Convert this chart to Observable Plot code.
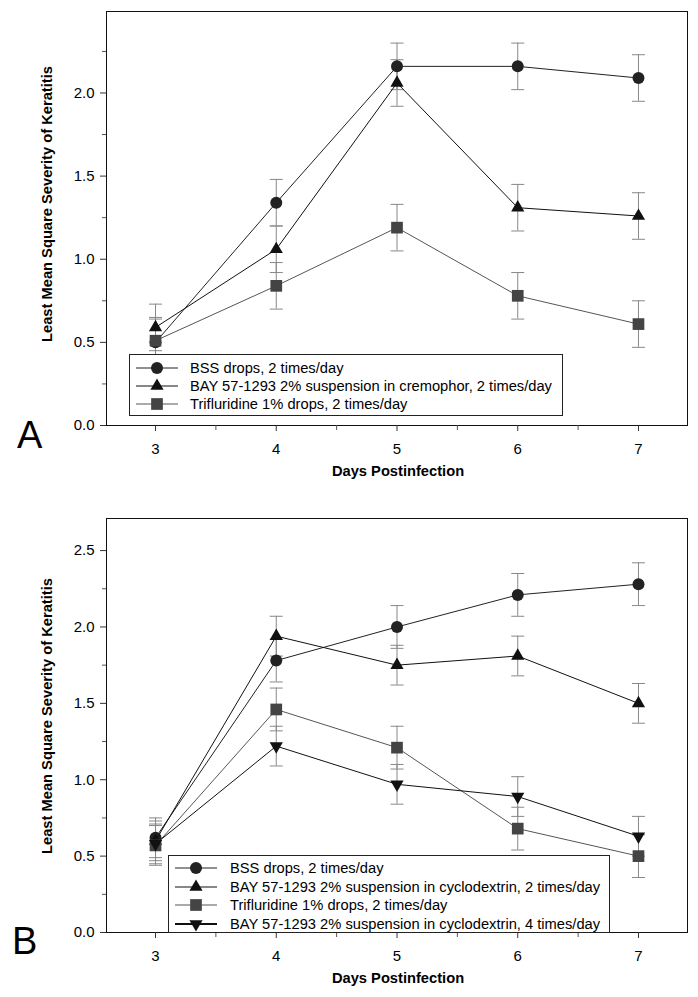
<!DOCTYPE html>
<html>
<head>
<meta charset="utf-8">
<script src="https://cdn.jsdelivr.net/npm/d3@7"></script>
<script src="https://cdn.jsdelivr.net/npm/@observablehq/plot@0.6"></script>
<style>
  body { margin: 0; background: #fff; font-family: "Liberation Sans", Arial, sans-serif; }
  #page { position: relative; width: 698px; height: 997px; overflow: hidden; }
  .panel { position: absolute; left: 0; width: 698px; }
  .letter { position: absolute; font-size: 38px; line-height: 1; color: #000; }
  .xtitle { position: absolute; font-weight: bold; font-size: 14.7px; line-height: 1; white-space: nowrap; transform: translate(-50%, -50%); }
  .ytitle { position: absolute; font-weight: bold; font-size: 14.7px; line-height: 1; white-space: nowrap; transform: translate(-50%, -50%) rotate(-90deg); }
  .legend { position: absolute; background: #fff; border: 1px solid #222; box-sizing: border-box; }
  .legend .row { position: absolute; left: 0; height: 18px; display: flex; align-items: center; font-size: 14.7px; white-space: nowrap; }
  .legend .row svg { display: block; }
</style>
</head>
<body>
<div id="page"></div>
<script>
// ---------- data ----------
const days = [3, 4, 5, 6, 7];
const minorDays = [3.5, 4.5, 5.5, 6.5];

// Panel A
const aLabels = [
  "BSS drops, 2 times/day",
  "BAY 57-1293 2% suspension in cremophor, 2 times/day",
  "Trifluridine 1% drops, 2 times/day"
];
const aBSS = [0.50, 1.34, 2.16, 2.16, 2.09];
const aBSSErr = [0.14, 0.14, 0.14, 0.14, 0.14];
const aBAY = [0.59, 1.06, 2.06, 1.31, 1.26];
const aBAYErr = [0.14, 0.14, 0.14, 0.14, 0.14];
const aTri = [0.51, 0.84, 1.19, 0.78, 0.61];
const aTriErr = [0.14, 0.14, 0.14, 0.14, 0.14];
const aYTicks = [0, 0.5, 1.0, 1.5, 2.0];
const aYMinor = [0.25, 0.75, 1.25, 1.75, 2.25];

// Panel B
const bLabels = [
  "BSS drops, 2 times/day",
  "BAY 57-1293 2% suspension in cyclodextrin, 2 times/day",
  "Trifluridine 1% drops, 2 times/day",
  "BAY 57-1293 2% suspension in cyclodextrin, 4 times/day"
];
const bBSS = [0.62, 1.78, 2.00, 2.21, 2.28];
const bBSSErr = [0.13, 0.14, 0.14, 0.14, 0.14];
const bBAY2 = [0.60, 1.94, 1.75, 1.81, 1.50];
const bBAY2Err = [0.13, 0.13, 0.13, 0.13, 0.13];
const bTri = [0.57, 1.46, 1.21, 0.68, 0.50];
const bTriErr = [0.13, 0.14, 0.14, 0.14, 0.14];
const bBAY4 = [0.58, 1.22, 0.97, 0.89, 0.63];
const bBAY4Err = [0.13, 0.13, 0.13, 0.13, 0.13];
const bYTicks = [0, 0.5, 1.0, 1.5, 2.0, 2.5];
const bYMinor = [0.25, 0.75, 1.25, 1.75, 2.25];

// ---------- styles ----------
const styleCircle = {symbol: "circle", fill: "#222", line: "#222", r: 6};
const styleTri = {symbol: "triangle", fill: "#111", line: "#111", r: 4.9};
const styleSquare = {symbol: "square", fill: "#444", line: "#555", r: 6.6};
const styleDown = {symbol: "triangle", fill: "#111", line: "#111", r: 4.9, rotate: 180};
const errColor = "#888";
const capSymbol = {draw(ctx) { ctx.moveTo(-6.5, 0); ctx.lineTo(6.5, 0); }};

function rows(values, errs) {
  return days.map((d, i) => ({day: d, v: values[i], lo: values[i] - errs[i], hi: values[i] + errs[i]}));
}

function seriesMarks(data) {
  return [
    Plot.ruleX(data, {x: "day", y1: "lo", y2: "hi", stroke: errColor, strokeWidth: 1}),
    Plot.dot(data, {x: "day", y: "hi", symbol: capSymbol, r: 3, fill: "none", stroke: errColor, strokeWidth: 1}),
    Plot.dot(data, {x: "day", y: "lo", symbol: capSymbol, r: 3, fill: "none", stroke: errColor, strokeWidth: 1})
  ];
}
function lineMarks(data, st) {
  return [
    Plot.line(data, {x: "day", y: "v", stroke: st.line, strokeWidth: 1}),
    Plot.dot(data, {x: "day", y: "v", symbol: st.symbol, r: st.r, fill: st.fill, stroke: "none", rotate: st.rotate || 0})
  ];
}

function makePanel(series, height, marginTop, marginBottom, yMax, yTicks, yMinor) {
  return Plot.plot({
    width: 698,
    height,
    marginLeft: 106,
    marginRight: 11,
    marginTop,
    marginBottom,
    style: {fontFamily: "'Liberation Sans', Arial, sans-serif", fontSize: "15px", color: "#000", background: "transparent"},
    x: {domain: [2.594, 7.406]},
    y: {domain: [0, yMax]},
    marks: [
      Plot.frame({stroke: "#111", strokeWidth: 1}),
      Plot.axisX(days, {tickSize: 6, tickPadding: 12, tickFormat: d => String(d), label: null, stroke: "#333"}),
      Plot.axisX(minorDays, {tickSize: 5, tickFormat: () => "", label: null, stroke: "#555"}),
      Plot.axisY(yTicks, {tickSize: 6, tickPadding: 6, tickFormat: d3.format(".1f"), label: null, stroke: "#333"}),
      Plot.axisY(yMinor, {tickSize: 4, tickFormat: () => "", label: null, stroke: "#555"}),
      ...series.flatMap(([d]) => seriesMarks(d)),
      ...series.flatMap(([d, st]) => lineMarks(d, st))
    ]
  });
}

function legendSample(st, thick) {
  const ns = "http://www.w3.org/2000/svg";
  const svg = document.createElementNS(ns, "svg");
  svg.setAttribute("width", 42);
  svg.setAttribute("height", 18);
  const line = document.createElementNS(ns, "line");
  line.setAttribute("x1", 0); line.setAttribute("x2", 42);
  line.setAttribute("y1", 9); line.setAttribute("y2", 9);
  line.setAttribute("stroke", st.line);
  line.setAttribute("stroke-width", thick ? 2 : 1);
  svg.appendChild(line);
  const sym = st.symbol === "circle" ? d3.symbolCircle : st.symbol === "square" ? d3.symbolSquare : d3.symbolTriangle;
  const p = document.createElementNS(ns, "path");
  p.setAttribute("d", d3.symbol(sym, Math.PI * st.r * st.r)());
  p.setAttribute("fill", st.fill);
  p.setAttribute("transform", `translate(21,9)${st.rotate ? " rotate(180)" : ""}`);
  svg.appendChild(p);
  return svg;
}

function makeLegend(labels, styles, thickIdx, box) {
  const div = document.createElement("div");
  div.className = "legend";
  Object.assign(div.style, {left: box.x + "px", top: box.y + "px", width: box.w + "px", height: box.h + "px"});
  labels.forEach((lab, i) => {
    const row = document.createElement("div");
    row.className = "row";
    row.style.top = (box.rowTop + i * box.rowStep - 9) + "px";
    row.style.left = box.sampleLeft + "px";
    const s = legendSample(styles[i], i === thickIdx);
    s.style.marginRight = (box.textLeft - box.sampleLeft - 42) + "px";
    row.appendChild(s);
    const t = document.createElement("span");
    t.textContent = lab;
    row.appendChild(t);
    div.appendChild(row);
  });
  return div;
}

function addText(parent, cls, text, x, y) {
  const el = document.createElement("div");
  el.className = cls;
  el.textContent = text;
  el.style.left = x + "px";
  el.style.top = y + "px";
  parent.appendChild(el);
  return el;
}

const page = document.getElementById("page");

// ----- Panel A -----
const panelA = document.createElement("div");
panelA.className = "panel";
panelA.style.top = "0px";
panelA.appendChild(makePanel([
  [rows(aBSS, aBSSErr), styleCircle],
  [rows(aBAY, aBAYErr), styleTri],
  [rows(aTri, aTriErr), styleSquare]
], 485, 11, 60, 2.49, aYTicks, aYMinor));
page.appendChild(panelA);
panelA.appendChild(makeLegend(aLabels, [styleCircle, styleTri, styleSquare], -1,
  {x: 129, y: 354, w: 434, h: 62, rowTop: 13, rowStep: 18, sampleLeft: 6, textLeft: 60}));
addText(page, "letter", "A", 17, 416);
addText(page, "xtitle", "Days Postinfection", 398, 471);
addText(page, "ytitle", "Least Mean Square Severity of Keratitis", 47, 204);

// ----- Panel B -----
const panelB = document.createElement("div");
panelB.className = "panel";
panelB.style.top = "485px";
panelB.appendChild(makePanel([
  [rows(bBSS, bBSSErr), styleCircle],
  [rows(bBAY2, bBAY2Err), styleTri],
  [rows(bTri, bTriErr), styleSquare],
  [rows(bBAY4, bBAY4Err), styleDown]
], 512, 33, 65, 2.71, bYTicks, bYMinor));
page.appendChild(panelB);
panelB.appendChild(makeLegend(bLabels, [styleCircle, styleTri, styleSquare, styleDown], 3,
  {x: 168, y: 370, w: 442, h: 78, rowTop: 12, rowStep: 18.5, sampleLeft: 6, textLeft: 61}));
addText(page, "letter", "B", 12, 922);
addText(page, "xtitle", "Days Postinfection", 398, 978);
addText(page, "ytitle", "Least Mean Square Severity of Keratitis", 47, 716);
</script>
</body>
</html>
